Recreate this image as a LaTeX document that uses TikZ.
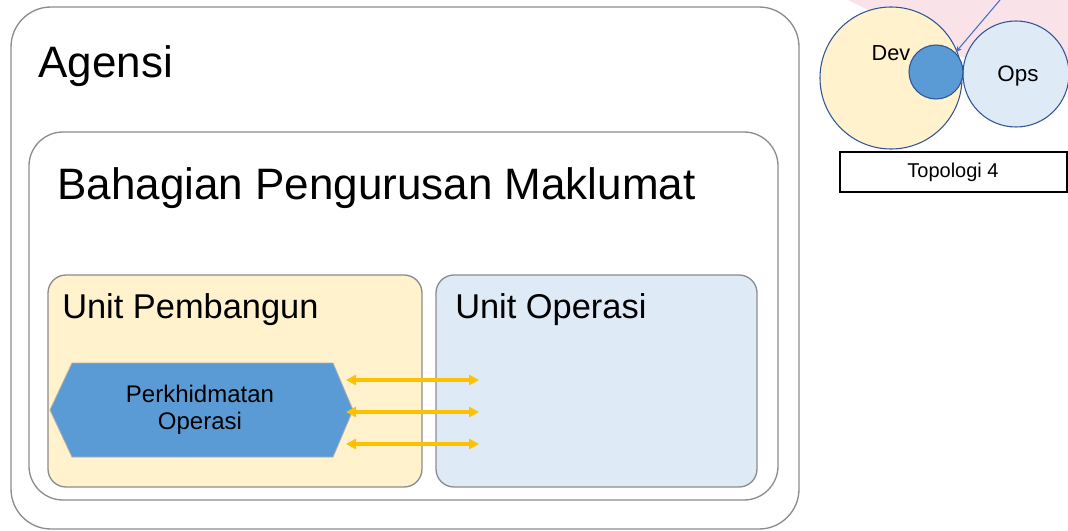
\documentclass[tikz,border=0pt]{standalone}
\usepackage{fontspec}
\setmainfont{Liberation Sans}
\usetikzlibrary{arrows.meta,shapes.geometric}
\definecolor{boxgray}{RGB}{140,140,140}
\definecolor{devfill}{RGB}{255,242,204}
\definecolor{opsfill}{RGB}{222,235,247}
\definecolor{hexfill}{RGB}{91,155,213}
\definecolor{circstroke}{RGB}{47,85,151}
\definecolor{arrowyellow}{RGB}{255,192,0}
\definecolor{pinkbg}{RGB}{249,227,232}
\definecolor{thinblue}{RGB}{68,114,196}
\tikzset{
  frame/.style={draw=boxgray, line width=1pt},
  biglabel/.style={anchor=base west, inner sep=0pt, font=\fontsize{33}{38}\selectfont},
  unitlabel/.style={anchor=base west, inner sep=0pt, font=\fontsize{25.8}{30}\selectfont},
  twoway/.style={draw=arrowyellow, line width=2.4pt, {Triangle[length=7.5pt,width=7.5pt]}-{Triangle[length=7.5pt,width=7.5pt]}},
  bubble/.style={circle, draw=circstroke, line width=0.8pt, inner sep=0pt},
}
\begin{document}
\begin{tikzpicture}[x=0.75pt,y=-0.75pt]
\useasboundingbox (0,0) rectangle (1068,531);
% pink background shape
\fill[pinkbg] (848,0) -- (1068,0) -- (1068,85) -- (962,57) -- cycle;
% outer boxes
\draw[frame, rounded corners=40*0.75pt] (11,7) rectangle (799,529);
\node[biglabel] (agensi) at (38,78) {Agensi};
\draw[frame, rounded corners=34*0.75pt] (29,132) rectangle (778,500);
\node[biglabel] (bpm) at (57,199.5) {Bahagian Pengurusan Maklumat};
% unit boxes
\draw[frame, fill=devfill, rounded corners=18*0.75pt] (48,275) rectangle (422,487);
\node[unitlabel] (upb) at (62,318) {Unit Pembangun};
\draw[frame, fill=opsfill, rounded corners=18*0.75pt] (436,275) rectangle (757,487);
\node[unitlabel] (uop) at (455,318) {Unit Operasi};
% hexagon
\fill[hexfill, draw=boxgray!70, line width=0.6pt] (50,410) -- (72,363) -- (333,363) -- (353,410) -- (333,457) -- (72,457) -- cycle;
\node[align=center, font=\fontsize{18}{20.3}\selectfont, inner sep=0pt] (hex) at (200,410) {Perkhidmatan\\Operasi};
% arrows
\coordinate (a1l) at (346,380); \coordinate (a1r) at (479,380);
\coordinate (a2l) at (346,412); \coordinate (a2r) at (479,412);
\coordinate (a3l) at (346,444); \coordinate (a3r) at (479,444);
\draw[twoway] (a1l) -- (a1r);
\draw[twoway] (a2l) -- (a2r);
\draw[twoway] (a3l) -- (a3r);
% topology
\node[bubble, fill=devfill, minimum size=142*0.75pt] (dev) at (891,78) {};
\node[bubble, fill=opsfill, minimum size=106*0.75pt] (ops) at (1016,74) {};
\node[bubble, fill=hexfill, minimum size=54*0.75pt] (small) at (936,72) {};
\node[font=\fontsize{16.3}{18}\selectfont, inner sep=0pt] (devt) at (891,53) {Dev};
\node[font=\fontsize{16.8}{18}\selectfont, inner sep=0pt] (opst) at (1018,76) {Ops};
\coordinate (arrstart) at (1000,0);
\draw[thinblue, line width=0.8pt, -{Stealth[length=5pt,width=4pt]}] (arrstart) -- (small.45);
\node[draw=black, line width=1.5pt, minimum width=227*0.75pt, minimum height=40*0.75pt, font=\fontsize{15}{17}\selectfont, inner sep=0pt] (topo) at (953,172.5) {Topologi 4};
\end{tikzpicture}
\end{document}
